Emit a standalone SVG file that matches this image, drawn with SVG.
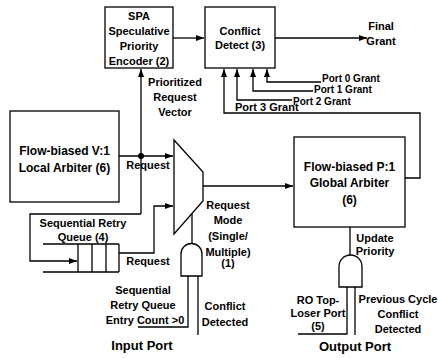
<svg xmlns="http://www.w3.org/2000/svg" width="438" height="358" viewBox="0 0 438 358">
<defs>
<marker id="ah" markerUnits="userSpaceOnUse" markerWidth="8" markerHeight="6" refX="8" refY="3" orient="auto">
<path d="M0,0 L8,3 L0,6 z" fill="#000"/>
</marker>
<style>
.b{fill:#fff;stroke:#000;stroke-width:1.3}
.w{fill:none;stroke:#000;stroke-width:1.3}
.a{marker-end:url(#ah)}
text{font-family:"Liberation Sans",Arial,sans-serif;font-weight:bold;font-size:11px;fill:#000}
.m{text-anchor:middle}
.l{font-size:12px}
.p{font-size:13px}
.g{font-size:10px}
</style>
</defs>
<rect width="438" height="358" fill="#fff"/>

<g id="connectors">
<path class="w a" d="M173,38 L204,38"/>
<path class="w a" d="M275,38 L367,38"/>
<path class="w a" d="M321,82 L267,82 L267,69"/>
<path class="w a" d="M313,91 L253,91 L253,69"/>
<path class="w a" d="M292,100 L237,100 L237,69"/>
<path class="w a" d="M405,178 L420,178 L420,113 L224,113 L224,69"/>
<path class="w a" d="M119,156 L173,156"/>
<path class="w a" d="M141,214 L141,69"/>
<path class="w a" d="M141,214 L30,214 L30,261 L77,261"/>
<path class="w a" d="M119,253 L154,253 L154,206 L173,206"/>
<path class="w a" d="M203,186 L293,186"/>
<path class="w" d="M192,214 L192,243"/>
<path class="w" d="M138,327 L188,327 L188,276"/>
<path class="w" d="M198,276 L198,335"/>
<path class="w" d="M350,227 L350,255"/>
<path class="w" d="M298,334 L347,334 L347,287"/>
<path class="w" d="M355,287 L355,335"/>
<circle cx="141" cy="156" r="3" fill="#000"/>
</g>

<g id="spa">
<rect class="b" x="105" y="7" width="68" height="61"/>
<text class="m" x="139" y="20">SPA</text>
<text class="m" x="139" y="35">Speculative</text>
<text class="m" x="139" y="50">Priority</text>
<text class="m" x="139" y="65">Encoder (2)</text>
</g>

<g id="conflict">
<rect class="b" x="205" y="7" width="70" height="61"/>
<text class="m" x="240" y="35">Conflict</text>
<text class="m" x="240" y="49">Detect (3)</text>
</g>

<g id="final-grant">
<text class="m" x="381" y="30">Final</text>
<text class="m" x="381" y="45">Grant</text>
</g>

<g id="port-grants">
<text class="g" x="322" y="81.5">Port 0 Grant</text>
<text class="g" x="314" y="93">Port 1 Grant</text>
<text class="g" x="293" y="104.5">Port 2 Grant</text>
<text x="235" y="111">Port 3 Grant</text>
</g>

<g id="prioritized">
<text class="m" x="175" y="86">Prioritized</text>
<text class="m" x="175" y="101">Request</text>
<text class="m" x="175" y="116">Vector</text>
</g>

<g id="local-arbiter">
<rect class="b" x="10" y="111" width="109" height="91"/>
<text class="m l" x="64.5" y="155">Flow-biased V:1</text>
<text class="m l" x="64.5" y="172">Local Arbiter (6)</text>
</g>

<g id="request-label">
<text class="m" x="148" y="169">Request</text>
</g>

<g id="mux">
<path class="b" d="M174,140 L203,172 L203,201 L174,234 Z"/>
</g>

<g id="request-mode">
<text class="m" x="228" y="209">Request</text>
<text class="m" x="228" y="224">Mode</text>
<text class="m" x="228" y="240">(Single/</text>
<text class="m" x="228" y="256">Multiple)</text>
<text class="m" x="228" y="267">(1)</text>
</g>

<g id="global-arbiter">
<rect class="b" x="294" y="137" width="111" height="90"/>
<text class="m l" x="349.5" y="171">Flow-biased P:1</text>
<text class="m l" x="349.5" y="187">Global Arbiter</text>
<text class="m l" x="349.5" y="204">(6)</text>
</g>

<g id="retry-queue">
<text class="m" x="83" y="227">Sequential Retry</text>
<text class="m" x="83" y="241">Queue (4)</text>
<path class="w" d="M43,244 L119,244 M43,272 L119,272 M78,244 L78,272 M92,244 L92,272 M106,244 L106,272 M119,244 L119,272"/>
<text class="m" x="148" y="265">Request</text>
</g>

<g id="input-and">
<path class="b" d="M181,276 L181,254 A10.5,10.5 0 0 1 202,254 L202,276 Z"/>
</g>

<g id="input-labels">
<text class="m" x="143" y="294">Sequential</text>
<text class="m" x="143" y="309">Retry Queue</text>
<text class="m" x="145" y="324">Entry Count &gt;0</text>
<text class="m" x="225" y="310">Conflict</text>
<text class="m" x="225" y="326">Detected</text>
<text class="m p" x="142" y="350">Input Port</text>
</g>

<g id="output-and">
<path class="b" d="M339,287 L339,266.5 A11.5,11.5 0 0 1 362,266.5 L362,287 Z"/>
</g>

<g id="output-labels">
<text class="m" x="375" y="242">Update</text>
<text class="m" x="375" y="255">Priority</text>
<text class="m" x="318" y="304">RO Top-</text>
<text class="m" x="318" y="317">Loser Port</text>
<text class="m" x="318" y="330">(5)</text>
<text class="m" x="398" y="303">Previous Cycle</text>
<text class="m" x="398" y="318">Conflict</text>
<text class="m" x="398" y="333">Detected</text>
<text class="m p" x="355" y="351">Output Port</text>
</g>
</svg>
